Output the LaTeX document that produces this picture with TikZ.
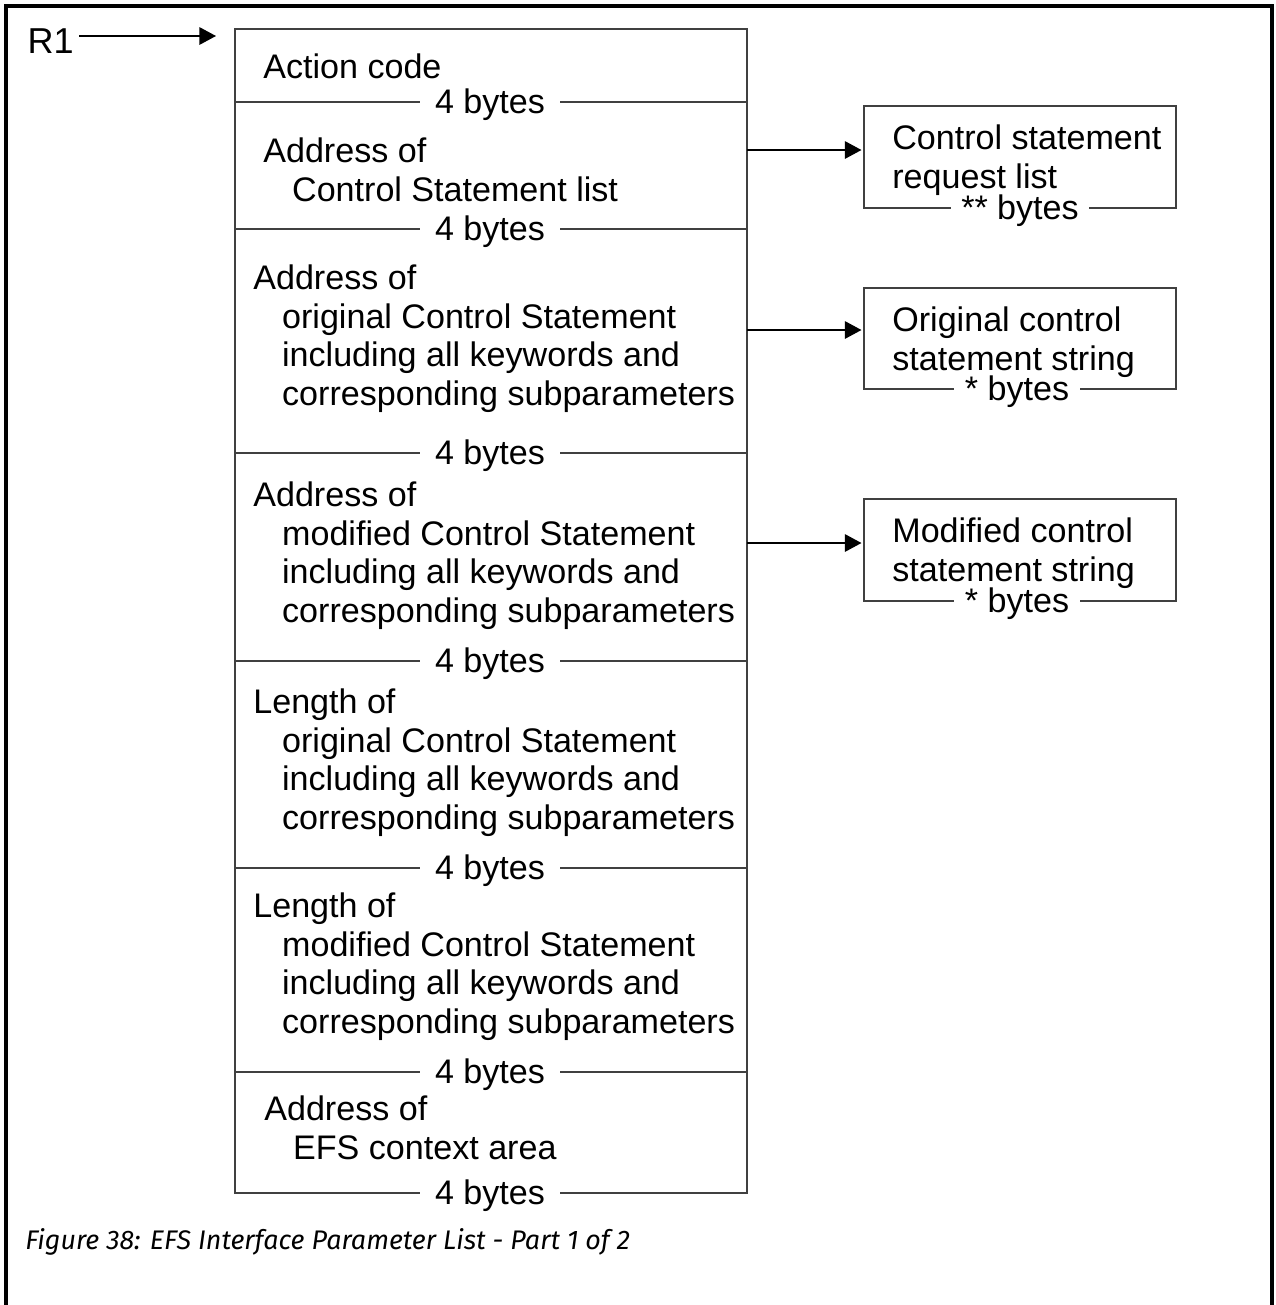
\documentclass[tikz,border=0pt]{standalone}
\usepackage{fontspec}
\setmainfont{Liberation Sans}
\newfontfamily\capfont{Fira Sans}
\usetikzlibrary{arrows.meta}

\newcommand{\ind}{\hspace*{16.4pt}}

\begin{document}
\begin{tikzpicture}[x=0.02cm, y=-0.02cm,
    every node/.style={inner sep=0pt},
    field/.style={anchor=base west, align=left,
        font=\fontsize{19.4}{21.85}\selectfont},
    bytes/.style={anchor=base, fill=white, inner xsep=8.5pt, inner ysep=0pt,
        font=\fontsize{19.4}{21.85}\selectfont},
    rbox/.style={draw=black!75, line width=0.9pt, minimum width=6.24cm},
    boxline/.style={draw=black!75, line width=0.9pt},
    ptr/.style={-{Triangle[length=9.5pt,width=10pt]}, black, line width=0.9pt}]
            \useasboundingbox (0,0) rectangle (1275,1305);

            % Cadre
            \draw[line width=1.8pt] (6,1305) -- (6,6) -- (1272,6) -- (1272,1305);

            % Registre R1 (base = derniere ligne du noeud)
            \node[field, inner xsep=3pt, font=\fontsize{20.5}{23}\selectfont] (R1) at (22,53) {R1};
            \coordinate (r1tip) at (216,36);
            \draw[ptr] (R1.east |- r1tip) -- (r1tip);

            % Liste de parametres
            \draw[boxline] (235,29) rectangle (747,1193);
            \foreach \y in {102,229,453,661,868,1072}
                \draw[boxline] (235,\y) -- (747,\y);

            \node[field] (act) at (263,78) {Action code};
            \node[field] (adrcsl) at (263,201) {Address of\\\ind Control Statement list};
            \node[field] (adrorig) at (253,405) {Address of\\\ind original Control Statement\\\ind including all keywords and\\\ind corresponding subparameters};
            \node[field] (adrmod) at (253,622) {Address of\\\ind modified Control Statement\\\ind including all keywords and\\\ind corresponding subparameters};
            \node[field] (lenorig) at (253,829) {Length of\\\ind original Control Statement\\\ind including all keywords and\\\ind corresponding subparameters};
            \node[field] (lenmod) at (253,1033) {Length of\\\ind modified Control Statement\\\ind including all keywords and\\\ind corresponding subparameters};
            \node[field] (adrefs) at (264,1159) {Address of\\\ind EFS context area};

            % Longueurs des champs
            \foreach \y in {102,229,453,661,868,1072,1193}
                \node[bytes] (b\y) at (490,\y+11) {4 bytes};

            % Zones pointees
            \node[rbox, minimum height=2.04cm] (csl) at (1020,157) {};
            \node[rbox, minimum height=2.02cm] (orig) at (1020,338.5) {};
            \node[rbox, minimum height=2.04cm] (mod) at (1020,550) {};

            \node[bytes, inner xsep=6pt] (cslb) at (1020,219) {** bytes};
            \node[bytes, inner xsep=6pt] (origb) at (1017,400) {* bytes};
            \node[bytes, inner xsep=6pt] (modb) at (1017,612) {* bytes};

            \node[field] (csltxt) at (892,188) {Control statement\\request list};
            \node[field] (origtxt) at (892,370) {Original control\\statement string};
            \node[field] (modtxt) at (892,581) {Modified control\\statement string};

            % Pointeurs
            \coordinate (p1) at (747,150);
            \coordinate (p2) at (747,330);
            \coordinate (p3) at (747,543);
            \draw[ptr] (p1) -- ([xshift=-1pt]csl.west |- p1);
            \draw[ptr] (p2) -- ([xshift=-1pt]orig.west |- p2);
            \draw[ptr] (p3) -- ([xshift=-1pt]mod.west |- p3);

            % Legende
            \node[anchor=base west, font=\capfont\itshape\fontsize{15.3}{17}\selectfont] (cap) at (25,1249) {Figure 38: EFS Interface Parameter List - Part 1 of 2};

\end{tikzpicture}
\end{document}
